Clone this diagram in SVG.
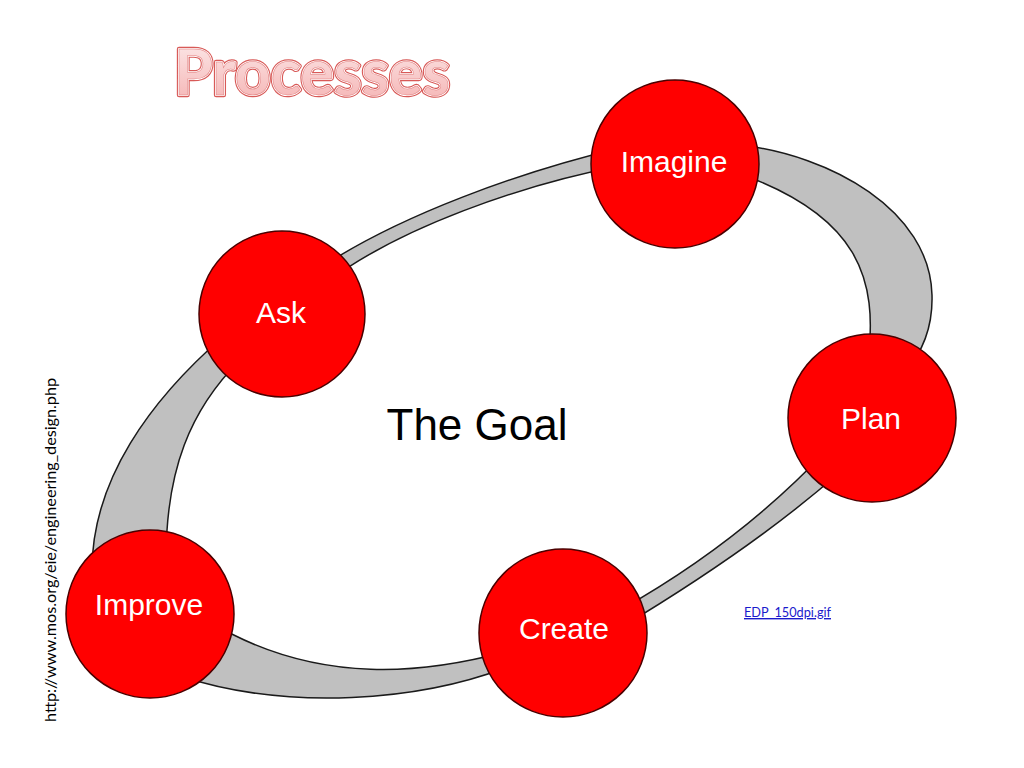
<svg xmlns="http://www.w3.org/2000/svg" width="1024" height="768" viewBox="0 0 1024 768">
<defs>
<linearGradient id="tg" x1="0" y1="0" x2="0" y2="1">
<stop offset="0" stop-color="#fdeeee"/>
<stop offset="1" stop-color="#f4b0b0"/>
</linearGradient>
<style>
.band{fill:#c0c0c0;stroke:#1a1a1a;stroke-width:1.5;stroke-linejoin:round}
.node circle{fill:#ff0000;stroke:#4a0000;stroke-width:1.5}
.node text{fill:#ffffff;font-family:"Liberation Sans",Arial,sans-serif;font-size:30px;text-anchor:middle}
.title{font-family:Lato,"Open Sans",sans-serif;font-weight:700;font-size:64px}
</style>
</defs>
<rect width="1024" height="768" fill="#ffffff"/>
<g id="title">
<text class="title" x="174" y="95" textLength="276" lengthAdjust="spacingAndGlyphs" fill="none" stroke="#d85a58" stroke-width="4.5" stroke-linejoin="round">Processes</text>
<text class="title" x="174" y="95" textLength="276" lengthAdjust="spacingAndGlyphs" fill="none" stroke="#ffffff" stroke-width="2.2" stroke-linejoin="round">Processes</text>
<text class="title" x="174" y="95" textLength="276" lengthAdjust="spacingAndGlyphs" fill="url(#tg)" stroke="#e07a7a" stroke-width="0.5">Processes</text>
</g>
<g id="connectors">
<path class="band" d="M92,570 C92,480 150,400 225,335 L240,360 C190,410 166,470 166,560 Z"/>
<path class="band" d="M320,268 C400,215 520,172 620,148 L620,166 C520,185 400,228 330,280 Z"/>
<path class="band" d="M740,145 C830,155 930,210 932,295 C933,330 920,355 905,372 L868,360 C878,280 860,215 735,172 Z"/>
<path class="band" d="M840,472 C780,525 700,580 620,628 L620,610 C700,565 770,510 825,452 Z"/>
<path class="band" d="M505,668 C420,700 290,712 180,676 L210,622 C320,688 430,672 505,652 Z"/>
</g>
<g id="node-imagine" class="node"><circle cx="675" cy="164" r="84"/><text x="674" y="172">Imagine</text></g>
<g id="node-ask" class="node"><circle cx="282" cy="314" r="83"/><text x="281" y="323">Ask</text></g>
<g id="node-plan" class="node"><circle cx="872" cy="418" r="84"/><text x="871" y="429">Plan</text></g>
<g id="node-create" class="node"><circle cx="563" cy="633" r="84"/><text x="564" y="639">Create</text></g>
<g id="node-improve" class="node"><circle cx="150" cy="614" r="84"/><text x="149" y="615">Improve</text></g>
<g id="goal"><text x="477" y="440" font-family="Liberation Sans,Arial,sans-serif" font-size="44" text-anchor="middle" fill="#000000">The Goal</text></g>
<g id="source-url"><text transform="translate(56,722) rotate(-90)" font-family="Lato,'Open Sans',sans-serif" font-size="16" fill="#000000" textLength="344" lengthAdjust="spacingAndGlyphs">http://www.mos.org/eie/engineering_design.php</text></g>
<g id="file-link"><text x="744" y="617" font-family="Lato,'Open Sans',sans-serif" font-size="14" fill="#1a1acc" text-decoration="underline" textLength="87" lengthAdjust="spacingAndGlyphs">EDP_150dpi.gif</text></g>
</svg>
